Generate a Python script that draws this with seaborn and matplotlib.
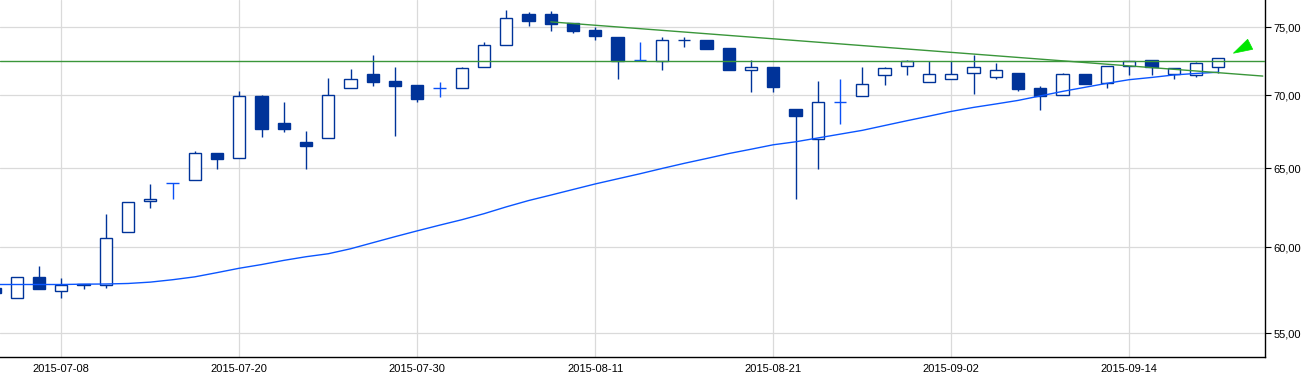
import numpy as np
import pandas as pd
import matplotlib
matplotlib.use("Agg")
import matplotlib.pyplot as plt
import seaborn as sns
from matplotlib.ticker import FixedLocator, FuncFormatter, NullLocator
from matplotlib.patches import Polygon

# ---------------- data ----------------
dates = pd.bdate_range("2015-07-03", "2015-09-18")

open_ = [57.55, 57.02, 58.25, 57.42, 57.80, 57.77, 60.91, 62.89, 64.02, 64.21,
         65.99, 65.67, 69.94, 68.06, 66.76, 67.00, 70.50, 71.55, 71.02, 70.73,
         70.50, 70.50, 72.02, 73.64, 76.02, 76.02, 75.31, 74.79, 74.26, 72.53,
         72.50, 74.00, 74.02, 73.42, 71.80, 72.04, 69.03, 66.98, 69.50, 69.97,
         71.48, 72.13, 70.97, 71.19, 71.58, 71.29, 71.60, 70.52, 70.00, 71.53,
         70.85, 72.09, 72.57, 71.51, 71.43, 72.00]
high = [57.60, 58.25, 58.86, 58.18, 57.80, 62.07, 62.79, 63.97, 64.02, 66.17,
        65.99, 70.31, 70.00, 69.52, 67.49, 71.24, 71.89, 72.92, 72.04, 70.73,
        70.93, 72.04, 73.87, 76.33, 76.17, 76.25, 75.31, 75.00, 74.26, 73.90,
        74.27, 74.24, 74.02, 73.42, 72.53, 72.04, 69.03, 71.02, 71.16, 72.04,
        72.04, 72.55, 72.46, 72.46, 72.94, 72.30, 71.60, 70.66, 71.60, 71.53,
        72.09, 72.46, 72.57, 71.94, 72.40, 72.67]
low = [57.30, 57.02, 57.54, 56.99, 57.51, 57.57, 60.91, 62.45, 63.02, 64.21,
       64.97, 65.67, 67.12, 67.45, 64.97, 67.00, 70.50, 70.68, 67.17, 69.49,
       69.90, 70.50, 72.02, 73.64, 75.05, 74.74, 74.59, 74.06, 71.19, 72.53,
       71.84, 73.54, 73.39, 71.84, 70.25, 70.20, 63.00, 64.97, 67.99, 69.97,
       70.74, 71.48, 70.97, 71.19, 70.11, 71.17, 70.33, 68.98, 70.00, 70.82,
       70.54, 71.48, 71.48, 71.19, 71.33, 71.62]
close = [57.30, 58.25, 57.54, 57.77, 57.74, 60.54, 62.79, 63.04, 64.02, 65.99,
         65.64, 69.92, 67.66, 67.66, 66.50, 70.00, 71.15, 70.97, 70.68, 69.75,
         70.50, 71.94, 73.64, 75.69, 75.43, 75.20, 74.74, 74.36, 72.48, 72.53,
         74.02, 74.05, 73.39, 71.84, 72.02, 70.61, 68.56, 69.50, 69.50, 70.80,
         71.94, 72.50, 71.53, 71.53, 72.02, 71.80, 70.47, 69.97, 71.51, 70.82,
         72.09, 72.46, 72.02, 71.94, 72.31, 72.67]
moving_avg = [57.78, 57.78, 57.78, 57.78, 57.80, 57.81, 57.84, 57.92, 58.06, 58.23,
              58.48, 58.74, 58.96, 59.21, 59.43, 59.61, 59.91, 60.28, 60.65, 61.01,
              61.36, 61.70, 62.08, 62.51, 62.91, 63.26, 63.62, 63.98, 64.31, 64.64,
              64.99, 65.33, 65.65, 65.98, 66.27, 66.57, 66.77, 67.03, 67.29, 67.55,
              67.88, 68.21, 68.53, 68.86, 69.14, 69.38, 69.63, 69.95, 70.27, 70.56,
              70.85, 71.11, 71.27, 71.45, 71.56, 71.65]
resistance_level = 72.48
trend_x = [25, 57.0]
trend_y = [75.40, 71.37]
tick_dates = ["2015-07-08", "2015-07-20", "2015-07-30", "2015-08-11",
              "2015-08-21", "2015-09-02", "2015-09-14"]
y_ticks = [55, 60, 65, 70, 75]

# ---------------- style ----------------
sns.set_style("white")
plt.rcParams["font.family"] = ["Liberation Sans", "DejaVu Sans"]

DARK = "#003399"
LIGHT = "#0a50f5"
MA_COL = "#0a55ff"
GREEN = "#3a963a"
GRID = "#dadada"

fig = plt.figure(figsize=(13.15, 3.76), dpi=100)
ax = fig.add_axes([0.0, 0.0497, 1265 / 1315, 1 - 0.0497])

o = np.array(open_); h = np.array(high); l = np.array(low); c = np.array(close)
x = np.arange(len(o))
up = c > o
dn = c < o
dj = c == o
w = 0.55

ax.set_yscale("log")

# wicks
ax.vlines(x[~dj], l[~dj], h[~dj], color=DARK, lw=1.0, zorder=3)
ax.vlines(x[dj], l[dj], h[dj], color=LIGHT, lw=1.0, zorder=3)
# bodies
ax.bar(x[up], c[up] - o[up], bottom=o[up], width=w, facecolor="white",
       edgecolor=DARK, linewidth=1.0, zorder=4)
ax.bar(x[dn], o[dn] - c[dn], bottom=c[dn], width=w, facecolor=DARK,
       edgecolor=DARK, linewidth=1.0, zorder=4)
ax.hlines(o[dj], x[dj] - w / 2, x[dj] + w / 2, color=LIGHT, lw=1.0, zorder=4)

# moving average
sns.lineplot(x=x, y=moving_avg, ax=ax, color=MA_COL, lw=1.0, zorder=5)
# horizontal level and trend line
ax.axhline(resistance_level, color=GREEN, lw=1.0, zorder=5)
sns.lineplot(x=trend_x, y=trend_y, ax=ax, color=GREEN, lw=1.0, zorder=5)

# arrow marker
ax.add_patch(Polygon([(0.975, 0.851), (0.9863, 0.890), (0.9903, 0.862)],
                     closed=True, transform=ax.transAxes, facecolor="#00e600",
                     edgecolor="#00e600", lw=0.5, zorder=6))

# axes
ax.set_xlim(0.245, 57.1)
ax.set_ylim(53.67, 77.09)

date_list = list(dates.strftime("%Y-%m-%d"))
tick_pos = [date_list.index(d) for d in tick_dates]
ax.xaxis.set_major_locator(FixedLocator(tick_pos))
ax.set_xticklabels(tick_dates)
ax.yaxis.set_major_locator(FixedLocator(y_ticks))
ax.yaxis.set_minor_locator(NullLocator())
ax.yaxis.set_major_formatter(FuncFormatter(lambda v, p: f"{v:.2f}".replace(".", ",")))

ax.yaxis.tick_right()
ax.tick_params(axis="y", which="major", direction="out", length=4, width=0.8,
               colors="black", labelsize=8, pad=2, left=False, right=True)
ax.tick_params(axis="x", which="major", direction="out", length=3, width=0.8,
               colors="black", labelsize=8, pad=2)
ax.grid(True, color=GRID, lw=0.9, zorder=0)
ax.set_axisbelow(True)

for s in ["top", "left"]:
    ax.spines[s].set_visible(False)
for s in ["right", "bottom"]:
    ax.spines[s].set_visible(True)
    ax.spines[s].set_color("black")
    ax.spines[s].set_linewidth(1.0)

ax.set_xlabel("")
ax.set_ylabel("")

fig.savefig("out.png", dpi=100)
